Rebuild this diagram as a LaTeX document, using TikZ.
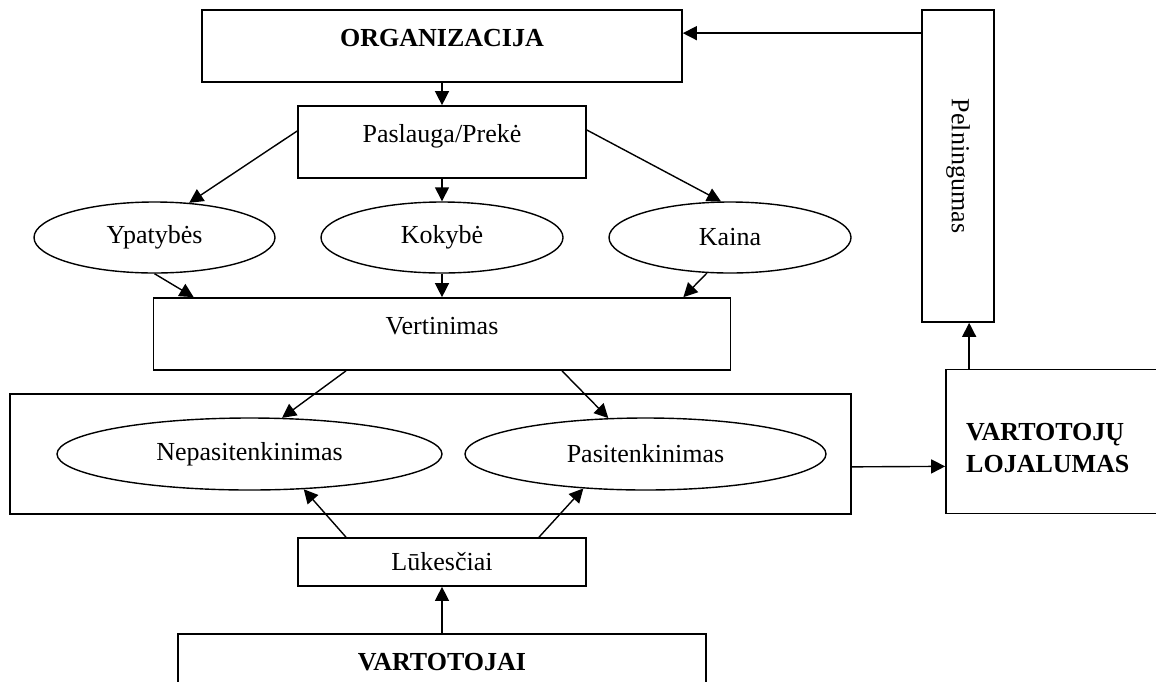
\documentclass[tikz,border=0pt]{standalone}
\usepackage{fontspec}
\setmainfont{Liberation Serif}
\usetikzlibrary{arrows.meta,calc,shapes.geometric}
\begin{document}
\begin{tikzpicture}[x=1pt,y=-1pt,
  every node/.style={font=\fontsize{26}{32}\selectfont},
  box/.style={draw, line width=1.7pt, rectangle, inner sep=0pt},
  oval/.style={draw, line width=1.4pt, ellipse, inner sep=0pt},
  % baseline of the text sits on the vertical centre of the box
  basemid/.style={text height=1ex, text depth=1ex},
  boldtext/.style={font=\fontsize{26}{32}\selectfont\bfseries},
  arr/.style={line width=1.4pt, -{Triangle[length=14pt,width=14pt]}},
]
\useasboundingbox (0,0) rectangle (1156,681);

% main column
\node[box, basemid, boldtext, minimum width=480pt, minimum height=72pt] (org) at (442,46) {ORGANIZACIJA};
\node[box, basemid, minimum width=288pt, minimum height=72pt] (pas) at (442,142) {Paslauga/Prekė};

\node[oval, minimum width=241pt, minimum height=71pt] (yp) at (154.5,237.5) {Ypatybės};
\node[oval, minimum width=242pt, minimum height=71pt] (ko) at (442,237.5) {Kokybė};
\node[oval, minimum width=242pt, minimum height=71pt] (ka) at (730,237.5) {Kaina};

\node[box, basemid, minimum width=577pt, minimum height=72pt] (ver) at (442,334) {Vertinimas};

\node[box, minimum width=841pt, minimum height=120pt] (grp) at (430.5,454) {};
\node[oval, minimum width=385pt, minimum height=72pt] (nep) at (249.5,454) {Nepasitenkinimas};
\node[oval, minimum width=361pt, minimum height=72pt] (sat) at (645.5,454) {Pasitenkinimas};

\node[box, minimum width=288pt, minimum height=48pt] (luk) at (442,562) {Lūkesčiai};
\node[box, basemid, boldtext, minimum width=528pt, minimum height=72pt] (vart) at (442,670) {VARTOTOJAI};

% right column
\node[box, minimum width=72pt, minimum height=312pt,
      label={[rotate=-90]center:Pelningumas}] (pel) at (958,166) {};
\node[box, minimum width=230pt, minimum height=144pt] (loy) at (1061,441.5) {};
\node[boldtext, anchor=north west, align=left, inner sep=0pt] (loytext) at (966,423) {VARTOTOJŲ\\LOJALUMAS};

% connectors
\draw[arr] (org.south) -- (pas.north);
\draw[arr] ([yshift=11pt]pas.west) -- (yp.45);
\draw[arr] (pas.south) -- (ko.north);
\draw[arr] ([yshift=12pt]pas.east) -- (ka.104);
\draw[arr] (yp.south) -- ([xshift=41pt]ver.north west);
\draw[arr] (ko.south) -- (ver.north);
\draw[arr] (ka.237) -- ([xshift=-48pt]ver.north east);
\draw[arr] ([xshift=-96pt]ver.south) -- (nep.48);
\draw[arr] ([xshift=120pt]ver.south) -- (sat.136);
\draw[arr] ([xshift=-96pt]luk.north) -- (nep.327);
\draw[arr] ([xshift=97pt]luk.north) -- (sat.209);
\draw[arr] (vart.north) -- (luk.south);
\draw[arr] ([yshift=48pt]grp.south east) -- ([yshift=48pt]loy.south west);
\draw[arr] ([xshift=24pt]loy.north west) -- ([xshift=48pt]pel.south west);
\draw[arr] ([yshift=-24pt]pel.north west) -- ([yshift=-24pt]org.north east);
\end{tikzpicture}
\end{document}
